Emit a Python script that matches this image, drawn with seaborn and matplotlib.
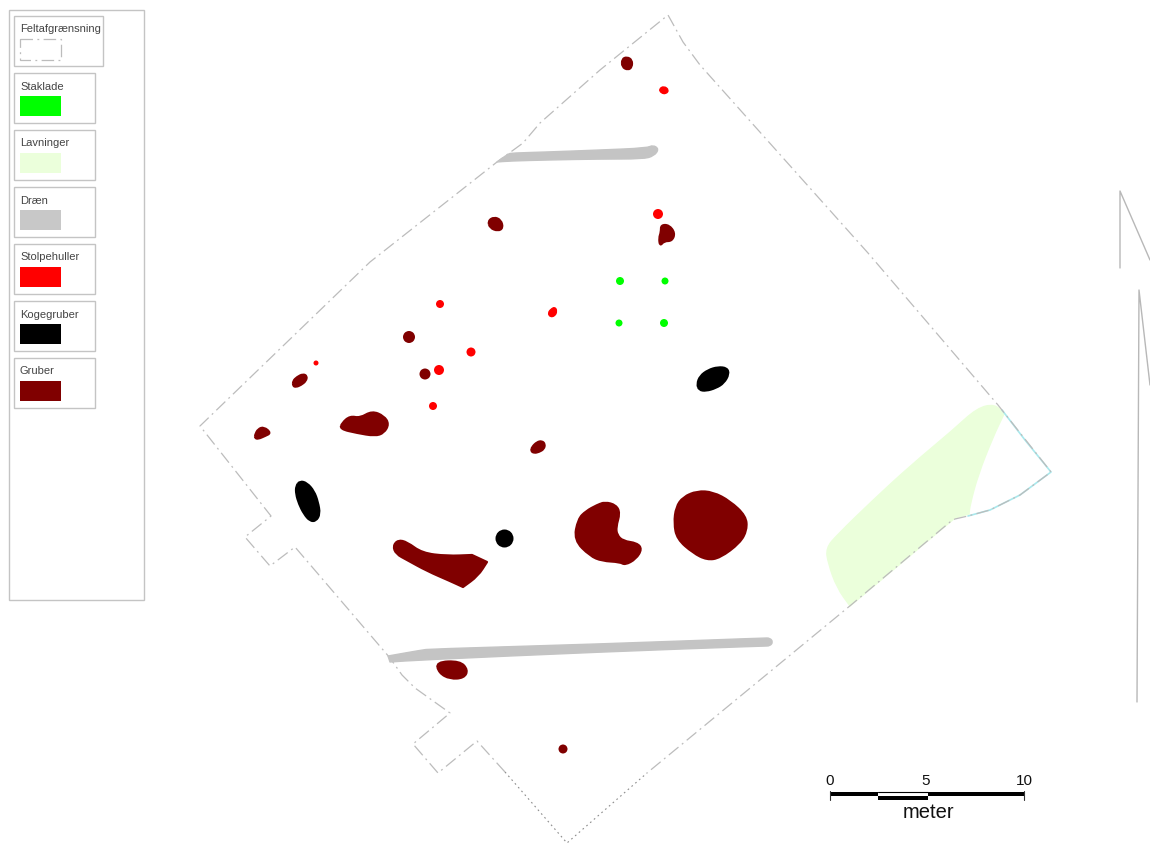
# Excavation plan: field boundary, features and legend
# All coordinates are read from the plan, in image pixels



# Import libraries ............................................................

import seaborn as sns
import matplotlib.pyplot as plt
from matplotlib.patches import PathPatch, Rectangle
from matplotlib.path import Path



# Data ........................................................................

# Field boundary, dashed stretch
field_x = [505, 477, 438, 413, 450, 415, 402, 390, 295, 270, 245, 271, 200, 370, 497, 523, 540, 600, 668, 683, 700, 868, 998, 1051, 1020, 990, 968, 955, 950, 851, 647]
field_y = [772, 741, 773, 744, 713, 688, 675, 658, 547, 566, 537, 516, 426, 262, 162, 143, 123, 70, 15, 42, 65, 253, 405, 472, 495, 510, 516, 519, 522, 605, 773]

# Field boundary, dotted stretch at the southern tip
tip_x = [505, 567, 647]
tip_y = [772, 843, 773]

# Cyan line along the eastern corner
corner_x = [1002, 1025, 1051, 1020, 990, 968]
corner_y = [410, 440, 472, 495, 510, 516]

# Low-lying area (doubled vertices are sharp corners)
lavning_x = [995, 1004, 1004, 993, 978, 970, 969, 969, 955, 955, 850, 850, 837, 828, 826, 837, 872, 910, 953, 977]
lavning_y = [404, 414, 414, 437, 475, 505, 514, 514, 518, 518, 606, 606, 588, 563, 548, 535, 501, 466, 430, 408]

# Drains
drain_top_x = [497, 497, 508, 512, 547, 600, 647, 653, 659, 654, 643, 600, 547, 510]
drain_top_y = [162, 162, 154, 153, 152, 150, 148, 145, 149, 156, 159, 159, 160, 161]
drain_bottom_x = [388, 388, 422, 430, 600, 764, 770, 773, 770, 764, 600, 420, 390, 390]
drain_bottom_y = [656, 656, 650, 649, 644, 638, 638, 642, 646, 646, 652, 660, 662, 662]

# Pits, outlines
gruber_shapes = [
    ([697, 713, 730, 746, 747, 740, 720, 707, 693, 677, 674, 676, 683],
     [491, 492, 501, 516, 530, 543, 558, 560, 553, 539, 523, 507, 497]),
    ([605, 616, 620, 616, 617, 623, 637, 642, 636, 625, 620, 602, 590, 574, 578, 586, 597],
     [502, 505, 513, 527, 535, 541, 543, 549, 559, 565, 562, 561, 556, 540, 519, 511, 505]),
    ([398, 407, 422, 447, 472, 472, 487, 487, 478, 463, 463, 450, 427, 407, 396, 393],
     [540, 542, 553, 556, 555, 555, 562, 562, 576, 587, 587, 581, 571, 560, 554, 546]),
    ([342, 350, 360, 372, 384, 389, 384, 375, 357, 340],
     [423, 416, 418, 411, 416, 424, 433, 436, 433, 429]),
    ([255, 258, 264, 271, 265, 258, 255], [435, 429, 427, 433, 436, 439, 438]),
    ([436, 460, 468, 464, 450, 439], [662, 661, 670, 678, 679, 673]),
    ([661, 669, 675, 672, 664, 660, 659, 661], [225, 225, 233, 241, 241, 246, 238, 232]),
    ([293, 297, 303, 307, 306, 301, 296, 293], [381, 377, 374, 376, 381, 385, 387, 386]),
    ([532, 537, 542, 545, 544, 539, 534, 531], [447, 442, 441, 444, 449, 452, 453, 451]),
    ([622, 627, 632, 632, 628, 622], [59, 57, 60, 67, 70, 67]),
    ([488, 494, 501, 503, 498, 490], [221, 217, 220, 228, 231, 228]),
]

# Pits, small ones
gruber_x = [409, 425, 563]
gruber_y = [337, 374, 749]
gruber_size = [12, 11, 9]

# Cooking pits
koge_shapes = [
    ([300, 307, 314, 318, 320, 316, 310, 304, 299, 296, 296], [481, 483, 491, 502, 514, 521, 521, 514, 504, 494, 486]),
    ([697, 700, 708, 718, 727, 729, 724, 716, 706, 699], [384, 376, 370, 367, 368, 374, 383, 388, 391, 390]),
]
koge_x = [504]
koge_y = [538]
koge_size = [18]

# Post holes
stolpe_shapes = [
    ([659, 664, 669, 666, 661], [89, 86, 90, 94, 93]),
    ([548, 551, 555, 557, 555, 550], [313, 309, 307, 311, 316, 317]),
]
stolpe_x = [658, 440, 471, 316, 439, 433]
stolpe_y = [214, 304, 352, 363, 370, 406]
stolpe_size = [10, 8, 9, 5, 10, 8]

# Stack barn posts
stak_x = [620, 665, 619, 664]
stak_y = [281, 281, 323, 323]
stak_size = [8, 7, 7, 8]

# Legend
legend_labels = ["Feltafgrænsning", "Staklade", "Lavninger", "Dræn", "Stolpehuller", "Kogegruber", "Gruber"]
legend_colors = ["none", "#00ff00", "#ebffdb", "#c8c8c8", "#ff0000", "#000000", "#800000"]

# Scale bar
scale_labels = ["0", "5", "10"]



# Figure ......................................................................

sns.set_theme(style = "white")
plt.rcParams["font.family"] = ["Liberation Sans", "DejaVu Sans"]

fig = plt.figure(figsize = (11.5, 8.43), dpi = 100)
ax = fig.add_axes([0, 0, 1, 1])
ax.set_xlim(0, 1150)
ax.set_ylim(843, 0)
ax.axis("off")

boundary_dash = (0, (10, 3.5, 1.5, 3.5))
boundary_grey = "#bcbcbc"
dark_red = "#800000"

# Closed outline, rounded by using the vertices as curve control points
def draw_shape(xs, ys, color, zorder = 3, edge = 1.6):
    pts = list(zip(xs, ys))
    mids = [((pts[i - 1][0] + pts[i][0]) / 2, (pts[i - 1][1] + pts[i][1]) / 2) for i in range(len(pts))]
    verts = [mids[0]]
    codes = [Path.MOVETO]
    for i in range(len(pts)):
        verts += [pts[i], mids[(i + 1) % len(pts)]]
        codes += [Path.CURVE3, Path.CURVE3]
    ax.add_patch(PathPatch(Path(verts, codes), facecolor = color, edgecolor = color, linewidth = edge,
                           joinstyle = "round", zorder = zorder))

def draw_dots(xs, ys, sizes, color):
    areas = [(d * 0.72) ** 2 for d in sizes]
    sns.scatterplot(x = xs, y = ys, s = areas, color = color, linewidth = 0, ax = ax, zorder = 4, legend = False)



# Field features ..............................................................

draw_shape(lavning_x, lavning_y, "#ebffdb", zorder = 2, edge = 1)
draw_shape(drain_top_x, drain_top_y, "#c4c4c4", edge = 1)
draw_shape(drain_bottom_x, drain_bottom_y, "#c4c4c4", edge = 1)

sns.lineplot(x = corner_x, y = corner_y, sort = False, estimator = None, color = "#a8e8ec", linewidth = 1.2, ax = ax, zorder = 2.5)
sns.lineplot(x = field_x, y = field_y, sort = False, estimator = None, color = boundary_grey,
             linewidth = 0.9, linestyle = boundary_dash, ax = ax, zorder = 2.6)
sns.lineplot(x = tip_x, y = tip_y, sort = False, estimator = None, color = "#8c8c8c",
             linewidth = 0.8, linestyle = (0, (1.5, 3)), ax = ax, zorder = 2.6)

for xs, ys in gruber_shapes:
    draw_shape(xs, ys, dark_red)
for xs, ys in koge_shapes:
    draw_shape(xs, ys, "black")
for xs, ys in stolpe_shapes:
    draw_shape(xs, ys, "#ff0000", edge = 1)

draw_dots(gruber_x, gruber_y, gruber_size, dark_red)
draw_dots(koge_x, koge_y, koge_size, "black")
draw_dots(stolpe_x, stolpe_y, stolpe_size, "#ff0000")
draw_dots(stak_x, stak_y, stak_size, "#00ff00")



# Legend ......................................................................

frame = "#c4c4c4"
ax.add_patch(Rectangle((9, 10), 135, 590, facecolor = "white", edgecolor = frame, linewidth = 1))

box_top = [16, 73, 130, 187, 244, 301, 358]
for i, label in enumerate(legend_labels):
    top = box_top[i]
    width = 89 if i == 0 else 81
    ax.add_patch(Rectangle((14, top), width, 50, facecolor = "white", edgecolor = frame, linewidth = 1))
    ax.text(20, top + 13.5, label, fontsize = 8, color = "#444444", va = "center", ha = "left")
    if i == 0:
        ax.add_patch(Rectangle((20, top + 23), 41, 21, facecolor = "none", edgecolor = boundary_grey,
                               linewidth = 0.9, linestyle = boundary_dash))
    else:
        ax.add_patch(Rectangle((20, top + 23), 41, 20, facecolor = legend_colors[i], edgecolor = "none"))



# Stray lines at the right edge ...............................................

for xs, ys in [([1150, 1120, 1120], [260, 191, 268]), ([1150, 1139, 1137], [385, 290, 702])]:
    ax.plot(xs, ys, color = "#b8b8b8", linewidth = 1)



# Scale bar ...................................................................

ax.add_patch(Rectangle((830, 791.5), 48, 4, facecolor = "black", edgecolor = "none"))
ax.add_patch(Rectangle((928, 791.5), 96, 4, facecolor = "black", edgecolor = "none"))
ax.add_patch(Rectangle((878, 796), 50, 4, facecolor = "black", edgecolor = "none"))
ax.plot([878, 928], [791.5, 791.5], color = "black", linewidth = 0.8)
ax.plot([830, 830], [791, 800], color = "#333333", linewidth = 0.8)
ax.plot([1024, 1024], [791, 800], color = "#333333", linewidth = 0.8)

for x, label in zip([830, 926, 1024], scale_labels):
    ax.text(x, 781, label, fontsize = 11, color = "#111111", ha = "center", va = "center")
ax.text(929, 813, "meter", fontsize = 14.5, color = "#111111", ha = "center", va = "center")

fig.savefig("out.png", dpi = 100, facecolor = "white")
